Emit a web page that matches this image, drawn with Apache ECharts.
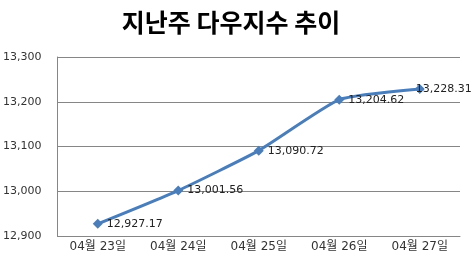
<!DOCTYPE html>
<html><head><meta charset="utf-8">
<script src="https://cdn.jsdelivr.net/npm/echarts@6/dist/echarts.min.js"></script>
<style>html,body{margin:0;padding:0;background:#fff}#c{width:472px;height:268px}</style>
</head><body><div id="c"></div>
<script>
const title = '지난주 다우지수 추이';
const categories = ['04월 23일','04월 24일','04월 25일','04월 26일','04월 27일'];
const values = [12927.17, 13001.56, 13090.72, 13204.62, 13228.31];
const yTicks = [12900, 13000, 13100, 13200, 13300];

const chart = echarts.init(document.getElementById('c'), null, {renderer:'canvas'});
const fmt = v => v.toLocaleString('en-US', {minimumFractionDigits:2, maximumFractionDigits:2});
const seriesData = values.map((v, i) => i === values.length - 1
  ? {value:v, label:{offset:[-13, 0]}} : v);
chart.setOption({
  animation:false,
  title:{text:title, left:226, textAlign:'center', top:5, textStyle:{fontFamily:'Noto Sans CJK KR', fontSize:25, fontWeight:'bold', color:'#000'}},
  grid:{left:56, right:12, top:57, bottom:32},
  xAxis:{type:'category', data:categories, boundaryGap:true,
    axisLine:{lineStyle:{color:'#868686'}}, axisTick:{show:false},
    axisLabel:{color:'#333', fontSize:12, fontFamily:'DejaVu Sans, Noto Sans CJK KR', margin:5}},
  yAxis:{type:'value', min:yTicks[0], max:yTicks[yTicks.length-1], interval:100,
    axisLine:{show:true, lineStyle:{color:'#868686'}}, axisTick:{show:false},
    splitLine:{lineStyle:{color:'#868686'}},
    axisLabel:{color:'#333', fontSize:11, fontFamily:'DejaVu Sans', margin:16,
      formatter:v=>v.toLocaleString('en-US')}},
  series:[{type:'line', data:seriesData, smooth:0.15, symbol:'diamond', symbolSize:10,
    lineStyle:{color:'#4A7EBB', width:3}, itemStyle:{color:'#4A7EBB'},
    label:{show:true, position:'right', distance:4, color:'#222', fontSize:11, fontFamily:'DejaVu Sans',
      formatter:p=>fmt(p.value)}}]
});
</script></body></html>
